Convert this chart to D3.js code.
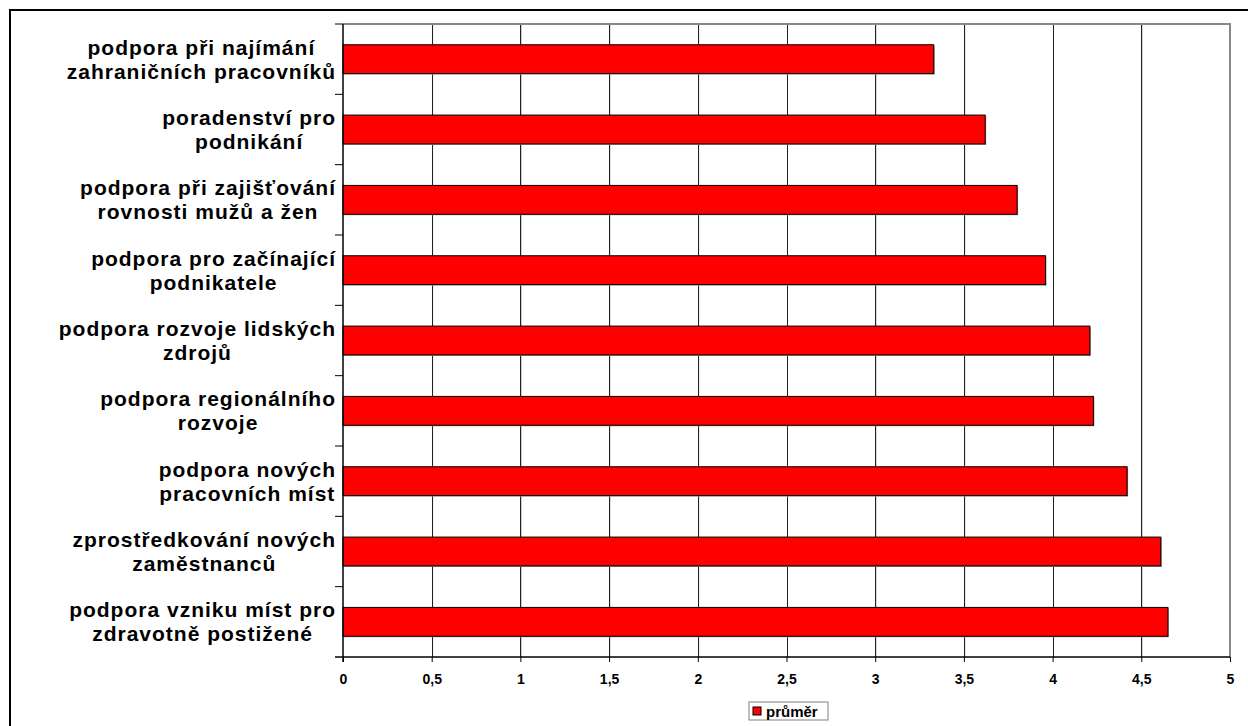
<!DOCTYPE html>
<html>
<head>
<meta charset="utf-8">
<script src="https://cdn.jsdelivr.net/npm/d3@7"></script>
<style>
  body { margin: 0; background: #fff; }
  svg text { font-family: "Liberation Sans", Arial, sans-serif; font-weight: bold; fill: #000; }
</style>
</head>
<body>
<div id="chart"></div>
<script>
// data, top to bottom as drawn
let categories = [
  ["podpora při najímání", "zahraničních pracovníků"],
  ["poradenství pro", "podnikání"],
  ["podpora při zajišťování", "rovnosti mužů a žen"],
  ["podpora pro začínající", "podnikatele"],
  ["podpora rozvoje lidských", "zdrojů"],
  ["podpora regionálního", "rozvoje"],
  ["podpora nových", "pracovních míst"],
  ["zprostředkování nových", "zaměstnanců"],
  ["podpora vzniku míst pro", "zdravotně postižené"]
];
let values = [3.33, 3.62, 3.80, 3.96, 4.21, 4.23, 4.42, 4.61, 4.65];
let tickValues = [0, 0.5, 1, 1.5, 2, 2.5, 3, 3.5, 4, 4.5, 5];
let seriesName = "průměr";

let width = 1248;
let height = 726;
let plot = { left: 343, right: 1230, top: 24, bottom: 657 };

let svg = d3.select("#chart")
  .append("svg")
  .attr("width", width)
  .attr("height", height);

// outer chart border
svg.append("rect")
  .attr("x", 10).attr("y", 10)
  .attr("width", 1250).attr("height", 730)
  .attr("fill", "#fff")
  .attr("stroke", "#000")
  .attr("stroke-width", 2);

let xScale = d3.scaleLinear()
  .domain([0, 5])
  .range([plot.left, plot.right]);

let yScale = d3.scaleBand()
  .domain(d3.range(categories.length))
  .range([plot.top, plot.bottom])
  .paddingInner(0.59)
  .paddingOuter(0.295);

// band boundaries for the y ticks
let bandStep = (plot.bottom - plot.top) / categories.length;

// gridlines
let grid = svg.append("g");
grid.selectAll("line.shadow")
  .data(tickValues.slice(1, -1))
  .enter()
  .append("line")
  .attr("x1", d => xScale(d) + 1)
  .attr("x2", d => xScale(d) + 1)
  .attr("y1", plot.top)
  .attr("y2", plot.bottom)
  .attr("stroke", "#c8c8c8")
  .attr("stroke-width", 1);
grid.selectAll("line.main")
  .data(tickValues.slice(1, -1))
  .enter()
  .append("line")
  .attr("x1", d => Math.round(xScale(d)) + 0.5)
  .attr("x2", d => Math.round(xScale(d)) + 0.5)
  .attr("y1", plot.top)
  .attr("y2", plot.bottom)
  .attr("stroke", "#222")
  .attr("stroke-width", 1);

// plot area border top/right (gray)
svg.append("path")
  .attr("d", "M" + plot.left + "," + plot.top + "H" + plot.right + "V" + plot.bottom)
  .attr("fill", "none")
  .attr("stroke", "#888")
  .attr("stroke-width", 2);

// bars with a slight shadow
let bars = svg.append("g");
bars.selectAll("rect.shadow")
  .data(values)
  .enter()
  .append("rect")
  .attr("x", xScale(0) + 1)
  .attr("y", (d, i) => yScale(i) + 1)
  .attr("width", d => xScale(d) - xScale(0))
  .attr("height", yScale.bandwidth())
  .attr("fill", "#9a9a9a");
bars.selectAll("rect.bar")
  .data(values)
  .enter()
  .append("rect")
  .attr("x", xScale(0))
  .attr("y", (d, i) => yScale(i))
  .attr("width", d => xScale(d) - xScale(0))
  .attr("height", yScale.bandwidth())
  .attr("fill", "#ff0000")
  .attr("stroke", "#000")
  .attr("stroke-width", 1);

// x axis
let xAxis = d3.axisBottom(xScale)
  .tickValues(tickValues)
  .tickSize(5)
  .tickPadding(12)
  .tickFormat(d => String(d).replace(".", ","));

let xg = svg.append("g")
  .attr("transform", "translate(0," + plot.bottom + ")")
  .call(xAxis);
xg.select(".domain").remove();
xg.selectAll(".tick line").attr("stroke", "#000");
xg.selectAll(".tick text")
  .attr("font-size", 14)
  .attr("font-family", "Liberation Sans, Arial, sans-serif")
  .attr("font-weight", "bold")
  .attr("fill", "#000");

// axis lines
svg.append("line")
  .attr("x1", plot.left - 8).attr("x2", plot.right)
  .attr("y1", plot.bottom).attr("y2", plot.bottom)
  .attr("stroke", "#000").attr("stroke-width", 1.5);
svg.append("line")
  .attr("x1", plot.left).attr("x2", plot.left)
  .attr("y1", plot.top).attr("y2", plot.bottom + 5)
  .attr("stroke", "#000").attr("stroke-width", 1.5);

// y ticks at band boundaries
svg.append("g").selectAll("line")
  .data(d3.range(categories.length))
  .enter()
  .append("line")
  .attr("x1", plot.left - 8)
  .attr("x2", plot.left)
  .attr("y1", d => plot.top + d * bandStep)
  .attr("y2", d => plot.top + d * bandStep)
  .attr("stroke", "#000");

// category labels: two centered lines, block right aligned to the axis
let labelRight = 336;
let labels = svg.append("g");
categories.forEach(function(lines, i) {
  let cy = yScale(i) + yScale.bandwidth() / 2;
  let g = labels.append("g");
  let texts = lines.map(function(t, k) {
    return g.append("text")
      .attr("y", cy + (k - 0.5) * 24)
      .attr("dy", "0.35em")
      .attr("font-size", 21)
      .attr("letter-spacing", 1)
      .attr("text-anchor", "middle")
      .text(t);
  });
  let maxW = d3.max(texts, t => t.node().getComputedTextLength());
  texts.forEach(t => t.attr("x", labelRight - maxW / 2));
});

// legend
let legend = svg.append("g").attr("transform", "translate(749,702)");
legend.append("rect")
  .attr("width", 79).attr("height", 18)
  .attr("fill", "#fff")
  .attr("stroke", "#808080");
legend.append("rect")
  .attr("x", 4).attr("y", 5)
  .attr("width", 8).attr("height", 8)
  .attr("fill", "#ff0000")
  .attr("stroke", "#000");
legend.append("text")
  .attr("x", 17).attr("y", 9.5)
  .attr("dy", "0.35em")
  .attr("font-size", 15)
  .text(seriesName);
</script>
</body>
</html>
